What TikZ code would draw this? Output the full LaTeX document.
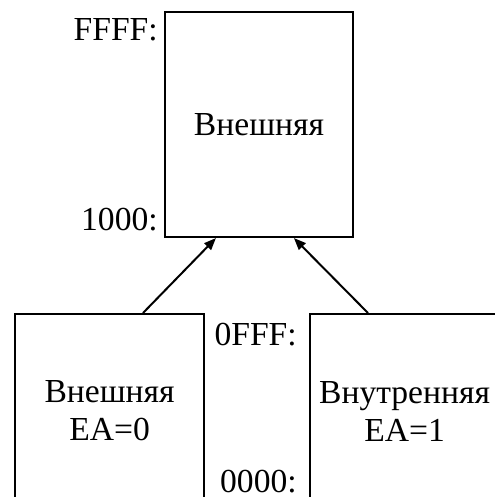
\documentclass[tikz,border=0pt]{standalone}
\usepackage{fontspec}
\setmainfont{Liberation Serif}
\usetikzlibrary{arrows.meta,calc}
\begin{document}
\begin{tikzpicture}[x=0.75pt,y=-0.75pt,
  every node/.style={font=\fontsize{25.2}{28.5}\selectfont, inner sep=0pt},
  membox/.style={draw, line width=1.6pt, align=center},
  addr/.style={anchor=base east},
  arr/.style={line width=1.5pt, -{Triangle[length=9pt,width=7pt]}}]
  \useasboundingbox (0,0) rectangle (495,497);
  \clip (0,0) rectangle (495,497);

  % upper memory block
  \node[membox, minimum width=141pt, minimum height=168.75pt] (T) at (259,124.5) {Внешняя};
  % lower memory blocks
  \node[membox, anchor=north west, minimum width=141.75pt, minimum height=145.5pt] (L) at (14,313) {Внешняя\\EA=0};
  \node[membox, anchor=north west, minimum width=141.75pt, minimum height=145.5pt] (R) at (309,313) {Внутренняя\\EA=1};

  % address labels
  \node[addr] (ffff) at (158,40) {FFFF:};
  \node[addr] (k1000) at (158,230) {1000:};
  \node[addr] (k0fff) at (297,345) {0FFF:};
  \node[addr] (k0000) at (297,492) {0000:};

  % arrows
  \draw[arr] ($(L.north west)+(129,0)$) -- ($(T.south west)+(52,0)$);
  \draw[arr] ($(R.north west)+(59,0)$) -- ($(T.south west)+(130,0)$);
\end{tikzpicture}
\end{document}
